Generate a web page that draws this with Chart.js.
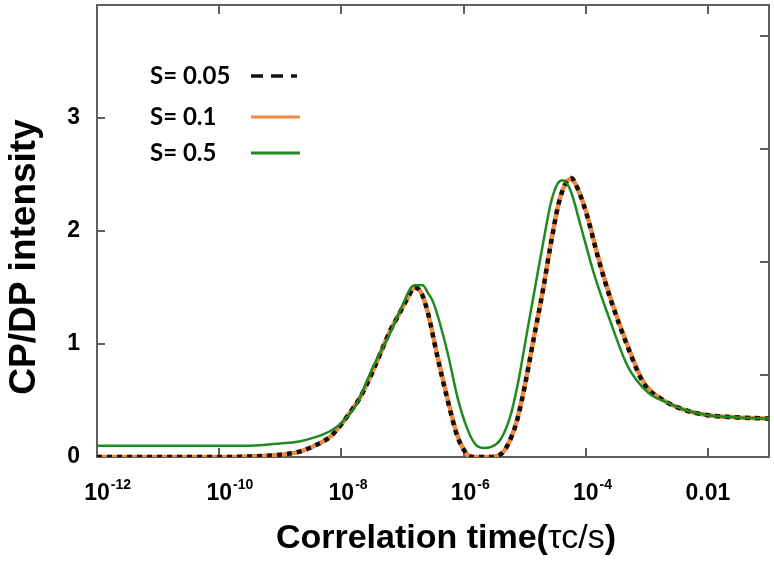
<!DOCTYPE html>
<html><head><meta charset="utf-8">
<script src="https://cdn.jsdelivr.net/npm/chart.js@4/dist/chart.umd.min.js"></script>
<style>html,body{margin:0;padding:0;background:#fff}#wrap{width:774px;height:572px}</style>
</head><body><div id="wrap"><canvas id="c" width="774" height="572"></canvas></div>
<script>
// ---- data ----
const seriesLabels = ['S= 0.05', 'S= 0.1', 'S= 0.5'];

// correlation times (s) shared by S=0.05 and S=0.1
const tauA = [1e-12, 1e-11, 1e-10, 3.16e-10, 1e-9, 2.14e-9, 3.98e-9, 6.61e-9, 1e-8, 1.41e-8,
  2.04e-8, 3.16e-8, 4.37e-8, 6.31e-8, 8.32e-8, 1.2e-7, 1.58e-7, 2e-7, 2.57e-7, 3.72e-7,
  5.5e-7, 7.94e-7, 1.12e-6, 1.41e-6, 2.51e-6, 3.55e-6, 4.57e-6, 6.31e-6, 7.76e-6, 1e-5,
  1.41e-5, 2e-5, 2.69e-5, 3.63e-5, 4.79e-5, 5.75e-5, 7.59e-5, 1.07e-4, 1.58e-4, 2.57e-4,
  4.9e-4, 8.91e-4, 1.91e-3, 3.98e-3, 1e-2, 3.16e-2, 1e-1];

const s005 = [0, 0, 0, 0.005, 0.02, 0.05, 0.11, 0.18, 0.29, 0.40,
  0.53, 0.74, 0.92, 1.12, 1.24, 1.40, 1.50, 1.46, 1.29, 0.89,
  0.50, 0.18, 0.03, 0, 0, 0.01, 0.05, 0.20, 0.35, 0.62,
  1.05, 1.48, 1.89, 2.25, 2.43, 2.47, 2.36, 2.12, 1.77, 1.39,
  0.97, 0.65, 0.50, 0.42, 0.37, 0.35, 0.34];

const s01 = [0, 0, 0, 0.005, 0.02, 0.05, 0.11, 0.18, 0.29, 0.40,
  0.53, 0.74, 0.92, 1.12, 1.24, 1.40, 1.50, 1.46, 1.29, 0.90,
  0.51, 0.19, 0.03, 0, 0, 0.01, 0.05, 0.20, 0.36, 0.63,
  1.05, 1.48, 1.89, 2.25, 2.43, 2.46, 2.36, 2.13, 1.78, 1.40,
  0.98, 0.66, 0.50, 0.42, 0.37, 0.35, 0.34];

// correlation times (s) for S=0.5
const tauB = [1e-12, 1e-11, 1e-10, 3.16e-10, 1e-9, 2.14e-9, 3.98e-9, 6.61e-9, 1e-8, 1.78e-8,
  3.31e-8, 6.31e-8, 1.05e-7, 1.38e-7, 1.58e-7, 2.14e-7, 2.63e-7, 3.24e-7, 5.5e-7, 7.94e-7,
  1.17e-6, 1.58e-6, 2.14e-6, 2.82e-6, 3.98e-6, 5.75e-6, 7.76e-6, 1.05e-5, 1.48e-5, 2e-5,
  2.69e-5, 3.47e-5, 4.17e-5, 5.62e-5, 8.32e-5, 1.35e-4, 2.57e-4, 4.9e-4, 1.05e-3, 2.19e-3,
  3.98e-3, 1e-2, 3.16e-2, 1e-1];

const s05 = [0.10, 0.10, 0.10, 0.10, 0.12, 0.14, 0.18, 0.23, 0.30, 0.47,
  0.80, 1.10, 1.37, 1.50, 1.52, 1.52, 1.45, 1.36, 0.92, 0.53,
  0.24, 0.11, 0.08, 0.09, 0.15, 0.35, 0.65, 1.05, 1.50, 1.89,
  2.25, 2.42, 2.45, 2.36, 2.04, 1.63, 1.19, 0.80, 0.57, 0.48,
  0.42, 0.37, 0.35, 0.34];

const xTickValues = [1e-12, 1e-10, 1e-8, 1e-6, 1e-4, 1e-2];
const xTickBase = ['10', '10', '10', '10', '10', '0.01'];
const xTickExp = ['-12', '-10', '-8', '-6', '-4', ''];
const yTickValues = [0, 1, 2, 3];
const yRightTickValues = [0.73, 1.73, 2.73, 3.73];
const xTitleParts = ['Correlation time(', '\u03C4c/s', ')'];
const yTitle = 'CP/DP intensity';

// ---- drawing ----
const FRAME = '#5e5e5e';
const BOLD = '"Liberation Sans", Arial, sans-serif';

const decor = {
  id: 'decor',
  beforeDatasetsDraw(chart) {
    const {ctx, chartArea: a, scales: {x, y}} = chart;
    ctx.save();
    ctx.strokeStyle = FRAME;
    ctx.lineWidth = 2;
    ctx.strokeRect(a.left, a.top, a.right - a.left, a.bottom - a.top);
    ctx.beginPath();
    xTickValues.forEach(v => {
      const px = Math.round(x.getPixelForValue(v));
      if (px <= a.left + 1) return;
      ctx.moveTo(px, a.bottom); ctx.lineTo(px, a.bottom - 9);
      ctx.moveTo(px, a.top); ctx.lineTo(px, a.top + 9);
    });
    yTickValues.forEach(v => {
      const py = Math.round(y.getPixelForValue(v));
      if (py >= a.bottom - 1) return;
      ctx.moveTo(a.left, py); ctx.lineTo(a.left + 8, py);
    });
    yRightTickValues.forEach(v => {
      const py = Math.round(y.getPixelForValue(v));
      ctx.moveTo(a.right, py); ctx.lineTo(a.right - 9, py);
    });
    ctx.stroke();
    ctx.restore();
  },
  afterDraw(chart) {
    const {ctx, scales: {x}} = chart;
    ctx.save();
    ctx.fillStyle = '#000';
    // x tick labels with superscripts
    xTickValues.forEach((v, i) => {
      const px = x.getPixelForValue(v);
      ctx.font = 'bold 23px ' + BOLD;
      ctx.textAlign = 'center';
      ctx.textBaseline = 'middle';
      ctx.fillText(xTickBase[i], px, 494);
      if (xTickExp[i]) {
        const w = ctx.measureText(xTickBase[i]).width;
        ctx.font = 'bold 14px ' + BOLD;
        ctx.textAlign = 'left';
        ctx.fillText(xTickExp[i], px + w / 2 + 1, 485);
      }
    });
    // x title with mixed weights
    const fonts = ['bold 34px ' + BOLD, '34px ' + BOLD, 'bold 34px ' + BOLD];
    let total = 0;
    const widths = xTitleParts.map((t, i) => { ctx.font = fonts[i]; const w = ctx.measureText(t).width; total += w; return w; });
    let cx = 446 - total / 2;
    ctx.textAlign = 'left';
    ctx.textBaseline = 'alphabetic';
    xTitleParts.forEach((t, i) => { ctx.font = fonts[i]; ctx.fillText(t, cx, 548); cx += widths[i]; });
    // y title
    ctx.save();
    ctx.translate(35, 257);
    ctx.rotate(-Math.PI / 2);
    ctx.font = 'bold 37px ' + BOLD;
    ctx.textAlign = 'center';
    ctx.textBaseline = 'alphabetic';
    ctx.fillText(yTitle, 0, 0);
    ctx.restore();
    // legend
    const ly = [76, 117, 153];
    chart.data.datasets.forEach((ds, i) => {
      ctx.font = 'bold 24px Lato, ' + BOLD;
      ctx.textAlign = 'left';
      ctx.textBaseline = 'middle';
      ctx.fillStyle = '#000';
      ctx.fillText(ds.label, 150, ly[i]);
      ctx.beginPath();
      ctx.strokeStyle = ds.borderColor;
      ctx.lineWidth = i === 0 ? 3.5 : 3;
      ctx.setLineDash(i === 0 ? [12, 8] : []);
      ctx.moveTo(251, ly[i]);
      ctx.lineTo(i === 0 ? 297 : 300, ly[i]);
      ctx.stroke();
      ctx.setLineDash([]);
    });
    ctx.restore();
  }
};

const toPts = (xs, ys) => xs.map((t, i) => ({x: t, y: ys[i]}));
const noPad = s => { s.paddingTop = 0; s.paddingBottom = 0; s.paddingLeft = 0; s.paddingRight = 0; };

new Chart(document.getElementById('c'), {
  type: 'line',
  data: {
    datasets: [
      {label: seriesLabels[0], data: toPts(tauA, s005), borderColor: '#111111', borderWidth: 4.5,
       borderDash: [5, 5], order: 2},
      {label: seriesLabels[1], data: toPts(tauA, s01), borderColor: '#F5883F', borderWidth: 4.5, order: 3},
      {label: seriesLabels[2], data: toPts(tauB, s05), borderColor: '#1F8B1F', borderWidth: 2.5, order: 1}
    ]
  },
  options: {
    responsive: false,
    animation: false,
    devicePixelRatio: 1,
    elements: {
      point: {radius: 0, hoverRadius: 0},
      line: {cubicInterpolationMode: 'monotone', fill: false}
    },
    layout: {padding: {left: 0, right: 5, top: 5, bottom: 0}},
    plugins: {legend: {display: false}, tooltip: {enabled: false}, title: {display: false}},
    scales: {
      x: {
        type: 'logarithmic', min: 1e-12, max: 1e-1,
        afterBuildTicks: s => { s.ticks = xTickValues.map(v => ({value: v})); },
        afterFit: s => { s.height = 115; noPad(s); },
        ticks: {display: false},
        grid: {display: false, drawTicks: false},
        border: {display: false}
      },
      y: {
        type: 'linear', min: 0, max: 4,
        afterBuildTicks: s => { s.ticks = yTickValues.map(v => ({value: v})); },
        afterFit: s => { s.width = 97; noPad(s); },
        ticks: {color: '#000', padding: 17, font: {family: BOLD, size: 23, weight: 'bold'}},
        grid: {display: false, drawTicks: false},
        border: {display: false}
      }
    }
  },
  plugins: [decor]
});
</script>
</body></html>
